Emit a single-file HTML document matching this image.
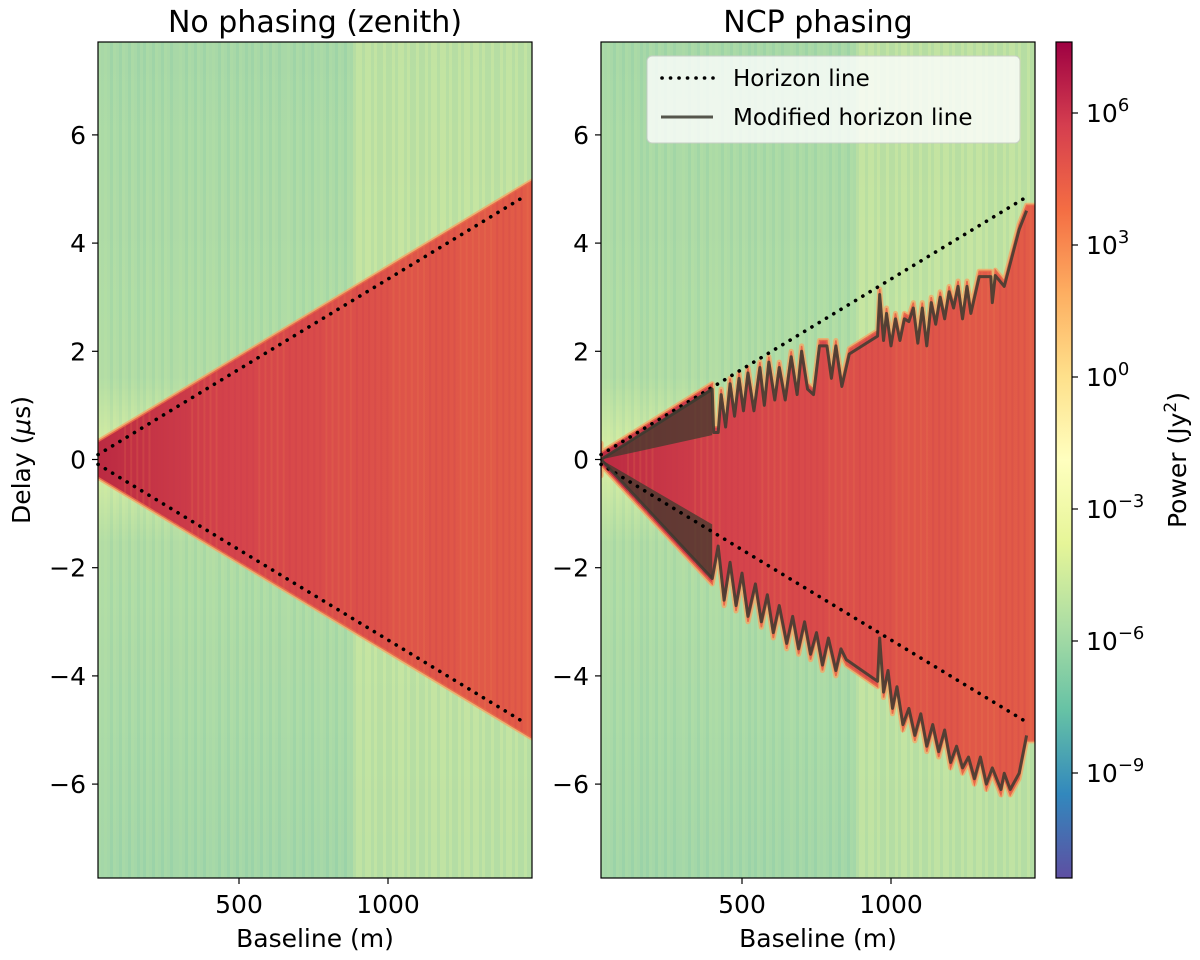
<!DOCTYPE html>
<html><head><meta charset="utf-8"><style>
body{margin:0;background:#fff}
svg{display:block;font-family:"DejaVu Sans","Liberation Sans",sans-serif}
</style></head><body>
<svg id="fig" width="1200" height="960" viewBox="0 0 1200 960">
<defs>
<linearGradient id="cbar" x1="0" y1="1" x2="0" y2="0">
<stop offset="0" stop-color="#5e4fa2"/><stop offset="0.1" stop-color="#3288bd"/><stop offset="0.2" stop-color="#66c2a5"/><stop offset="0.3" stop-color="#abdda4"/><stop offset="0.4" stop-color="#e6f598"/><stop offset="0.5" stop-color="#ffffbf"/><stop offset="0.6" stop-color="#fee08b"/><stop offset="0.7" stop-color="#fdae61"/><stop offset="0.8" stop-color="#f46d43"/><stop offset="0.9" stop-color="#d53e4f"/><stop offset="1" stop-color="#9e0142"/>
</linearGradient>
<linearGradient id="bgv" x1="0" y1="0" x2="0" y2="1">
<stop offset="0" stop-color="#a2d6a6"/><stop offset="0.4" stop-color="#b0dca4"/><stop offset="0.5" stop-color="#e6f4a0"/><stop offset="0.6" stop-color="#b0dca4"/><stop offset="1" stop-color="#9cd4a8"/>
</linearGradient>
<linearGradient id="redh" x1="0" y1="0" x2="1" y2="0">
<stop offset="0" stop-color="#bb2a42"/><stop offset="0.3" stop-color="#d4434b"/><stop offset="0.7" stop-color="#de5449"/><stop offset="1" stop-color="#e25c47"/>
</linearGradient>
<clipPath id="clipL"><rect x="98" y="42" width="434" height="836"/></clipPath>
<clipPath id="clipR"><rect x="601" y="42" width="434" height="836"/></clipPath>
</defs>
<g id="panels"></g>
</svg>
<script>
// ---- data ----
const xTicks=[500,1000];
const yTicks=[-6,-4,-2,0,2,4,6];
const cbarExps=[6,3,0,-3,-6,-9];
const bMin=27, bMax=1487;
const horizonEnd=1463;
const upperB=[27,400,405,420,430,445,460,475,490,505,520,540,560,575,590,610,625,645,665,685,700,720,740,760,785,800,815,835,860,955,962,975,985,1000,1015,1030,1045,1060,1075,1090,1105,1120,1135,1150,1165,1180,1195,1210,1225,1240,1255,1268,1296,1335,1340,1350,1380,1430,1455];
const upperD=[0,1.3,0.5,0.5,1.2,0.6,1.4,0.8,1.5,0.9,1.6,0.9,1.7,1.0,1.8,1.1,1.7,1.1,1.9,1.2,2.0,1.3,1.2,2.1,2.1,1.5,2.1,1.35,1.95,2.28,3.05,2.2,2.7,2.1,2.6,2.2,2.6,2.55,2.8,2.15,2.8,2.1,2.9,2.5,3.0,2.6,3.1,2.8,3.2,2.6,3.2,2.7,3.38,3.38,2.9,3.4,3.2,4.25,4.6];
const lowerB=[27,400,420,440,460,480,500,520,545,565,585,605,625,650,670,690,710,730,750,770,790,815,832,850,955,962,975,990,1005,1020,1040,1060,1080,1100,1120,1140,1160,1180,1200,1220,1240,1260,1280,1300,1320,1340,1369,1380,1400,1430,1455];
const lowerD=[0,-2.2,-1.6,-2.6,-1.9,-2.7,-2.1,-2.9,-2.3,-3.0,-2.5,-3.2,-2.7,-3.4,-2.9,-3.5,-3.0,-3.6,-3.2,-3.8,-3.3,-3.9,-3.5,-3.7,-4.1,-3.3,-4.3,-3.9,-4.6,-4.2,-4.9,-4.6,-5.1,-4.7,-5.3,-4.9,-5.4,-5.0,-5.6,-5.3,-5.7,-5.5,-5.9,-5.5,-6.0,-5.7,-6.1,-5.8,-6.1,-5.8,-5.1];

const NS='http://www.w3.org/2000/svg';
const root=document.getElementById('panels');
function mk(tag,attrs,parent){const e=document.createElementNS(NS,tag);for(const k in attrs)e.setAttribute(k,attrs[k]);(parent||root).appendChild(e);return e;}
const TOP=42, BOT=878, H=BOT-TOP;
function xS(b,off){return 90+off+b*0.298;}
function yS(d){return 459.5-d*54.1;}
function horizon(b){return b/299.8;}
const DOT={stroke:'#000',"stroke-width":3.6,"stroke-dasharray":'0.1,8.4',"stroke-linecap":'round'};

function drawPanel(off,title,ncp){
  const g=mk('g',{});
  
  
  const x0=98+off;
  const cg=mk('g',{'clip-path':ncp?'url(#clipR)':'url(#clipL)'},g);
  const bg=mk('rect',{x:x0,y:TOP,width:434,height:H,fill:'url(#bgv)'},cg);
  
  
  for(let i=0;i<145;i++){
    const h=((i*7919)%97)/97;
    const xx=x0+i*3;
    const right=xx-off>350;
    const col=right?(h>0.5?'#dcee9e':'#c6e4a0'):(h>0.6?'#b6deaa':(h>0.3?'#98d0a8':'#bfe3a4'));
    mk('rect',{x:xx,y:TOP,width:3,height:H,fill:col,opacity:right?0.55:0.3},cg);
  }
  let pts=[];
  if(!ncp){
    pts.push([xS(bMin,off),yS(0.33)],[xS(bMax,off),yS(horizon(bMax)+0.2)],[xS(bMax,off),yS(-horizon(bMax)-0.2)],[xS(bMin,off),yS(-0.33)]);
  }else{
    pts.push([xS(bMin,off),yS(0.3)]);
    upperB.forEach((b,i)=>pts.push([xS(b,off),yS(Math.max(upperD[i],horizon(b)*0.3)+0.1)]));
    pts.push([xS(bMax,off),yS(4.7)],[xS(bMax,off),yS(-5.2)]);
    for(let i=lowerB.length-1;i>=0;i--)pts.push([xS(lowerB[i],off),yS(lowerD[i]-0.1)]);
    pts.push([xS(bMin,off),yS(-0.3)]);
  }
  const ps=pts.map(p=>p.join(',')).join(' ');
  const halo=mk('polygon',{points:ps,fill:'none',stroke:'#f4a866',"stroke-width":5,"stroke-linejoin":'round',opacity:0.8},cg);
  
  
  const red=mk('polygon',{points:ps,fill:'url(#redh)',stroke:'#e8684a',"stroke-width":1.5},cg);
  
  
  const tex=mk('clipPath',{id:'wc'+off},g);
  mk('polygon',{points:ps},tex);
  const tg=mk('g',{'clip-path':'url(#wc'+off+')'},cg);
  for(let i=0;i<70;i++){
    const h=((i*6133)%89)/89;
    const xx=x0+20+i*6.1;
    mk('rect',{x:xx,y:TOP,width:2,height:H,fill:h>0.5?'#f0844e':'#c8384c',opacity:0.18},tg);
  }
  [1,-1].forEach(s=>{
    const l=mk('line',Object.assign({x1:xS(bMin,off),y1:yS(s*horizon(bMin)),x2:xS(horizonEnd,off),y2:yS(s*horizon(horizonEnd))},DOT),g);
    
    
  });
  if(ncp){
    const fan1=mk('polygon',{points:[[xS(27,off),yS(0)],[xS(400,off),yS(1.33)],[xS(400,off),yS(0.45)]].map(p=>p.join(',')).join(' '),fill:'#3a3a2c',opacity:0.72},cg);
    
    
    const fan2=mk('polygon',{points:[[xS(27,off),yS(0)],[xS(400,off),yS(-1.2)],[xS(400,off),yS(-2.2)]].map(p=>p.join(',')).join(' '),fill:'#3a3a2c',opacity:0.72},cg);
    
    
    [[upperB,upperD],[lowerB,lowerD]].forEach(([B,D],k)=>{
      const p=mk('polyline',{points:B.map((b,i)=>xS(b,off)+','+yS(D[i])).join(' '),fill:'none',stroke:'#3b3b30',"stroke-width":3,opacity:0.85,"stroke-linejoin":'round'},g);
      
      
    });
  }
  const fr=mk('rect',{x:x0,y:TOP,width:434,height:H,fill:'none',stroke:'#000',"stroke-width":1.2},g);
  
  
  xTicks.forEach(t=>{
    const x=xS(t,off);
    mk('line',{x1:x,y1:BOT,x2:x,y2:BOT+6,stroke:'#000',"stroke-width":1.2},g);
    const tx=mk('text',{x:x,y:913,"font-size":25,"text-anchor":'middle'},g);tx.textContent=t;
    
    
  });
  yTicks.forEach(t=>{
    const y=yS(t);
    mk('line',{x1:x0-6,y1:y,x2:x0,y2:y,stroke:'#000',"stroke-width":1.2},g);
    const tx=mk('text',{x:x0-12,y:y+9,"font-size":25,"text-anchor":'end'},g);tx.textContent=(t<0?'\u2212'+(-t):t);
    
    
  });
  const xl=mk('text',{x:x0+217,y:947,"font-size":25,"text-anchor":'middle'},g);xl.textContent='Baseline (m)';
  
  
  const tt=mk('text',{x:x0+217,y:32,"font-size":30,"text-anchor":'middle'},g);tt.textContent=title;
  
  
}
drawPanel(0,'No phasing (zenith)',false);
drawPanel(503,'NCP phasing',true);

const yl=mk('text',{x:30,y:460,"font-size":25,"text-anchor":'middle',transform:'rotate(-90 30 460)'});
yl.innerHTML='Delay (<tspan font-style="italic">\u03bc</tspan>s)';



const lg=mk('g',{});


mk('rect',{x:647,y:56,width:373,height:87,rx:5,fill:'#fff',opacity:0.8,stroke:'#ccc'},lg);
mk('line',Object.assign({x1:662,y1:78,x2:713,y2:78},DOT),lg);
mk('line',{x1:661,y1:117,x2:713,y2:117,stroke:'#3b3b30',"stroke-width":3,opacity:0.85},lg);
const l1=mk('text',{x:733,y:86,"font-size":23},lg);l1.textContent='Horizon line';


const l2=mk('text',{x:733,y:125,"font-size":23},lg);l2.textContent='Modified horizon line';



const cb=mk('g',{});


mk('rect',{x:1056,y:TOP,width:16,height:H,fill:'url(#cbar)',stroke:'#000',"stroke-width":1.2},cb);
function cY(e){return 641-(e+6)*44;}
cbarExps.forEach(e=>{
  const y=cY(e);
  mk('line',{x1:1072,y1:y,x2:1078,y2:y,stroke:'#000',"stroke-width":1.2},cb);
  const t=mk('text',{x:1086,y:y+9,"font-size":25},cb);
  t.innerHTML='10<tspan dy="-11" font-size="18">'+(e<0?'\u2212'+(-e):e)+'</tspan>';
  
  
});
const cl=mk('text',{x:1186,y:460,"font-size":25,"text-anchor":'middle',transform:'rotate(-90 1186 460)'});
cl.innerHTML='Power (Jy<tspan dy="-10" font-size="17">2</tspan><tspan dy="10">)</tspan>';


</script>
</body></html>
